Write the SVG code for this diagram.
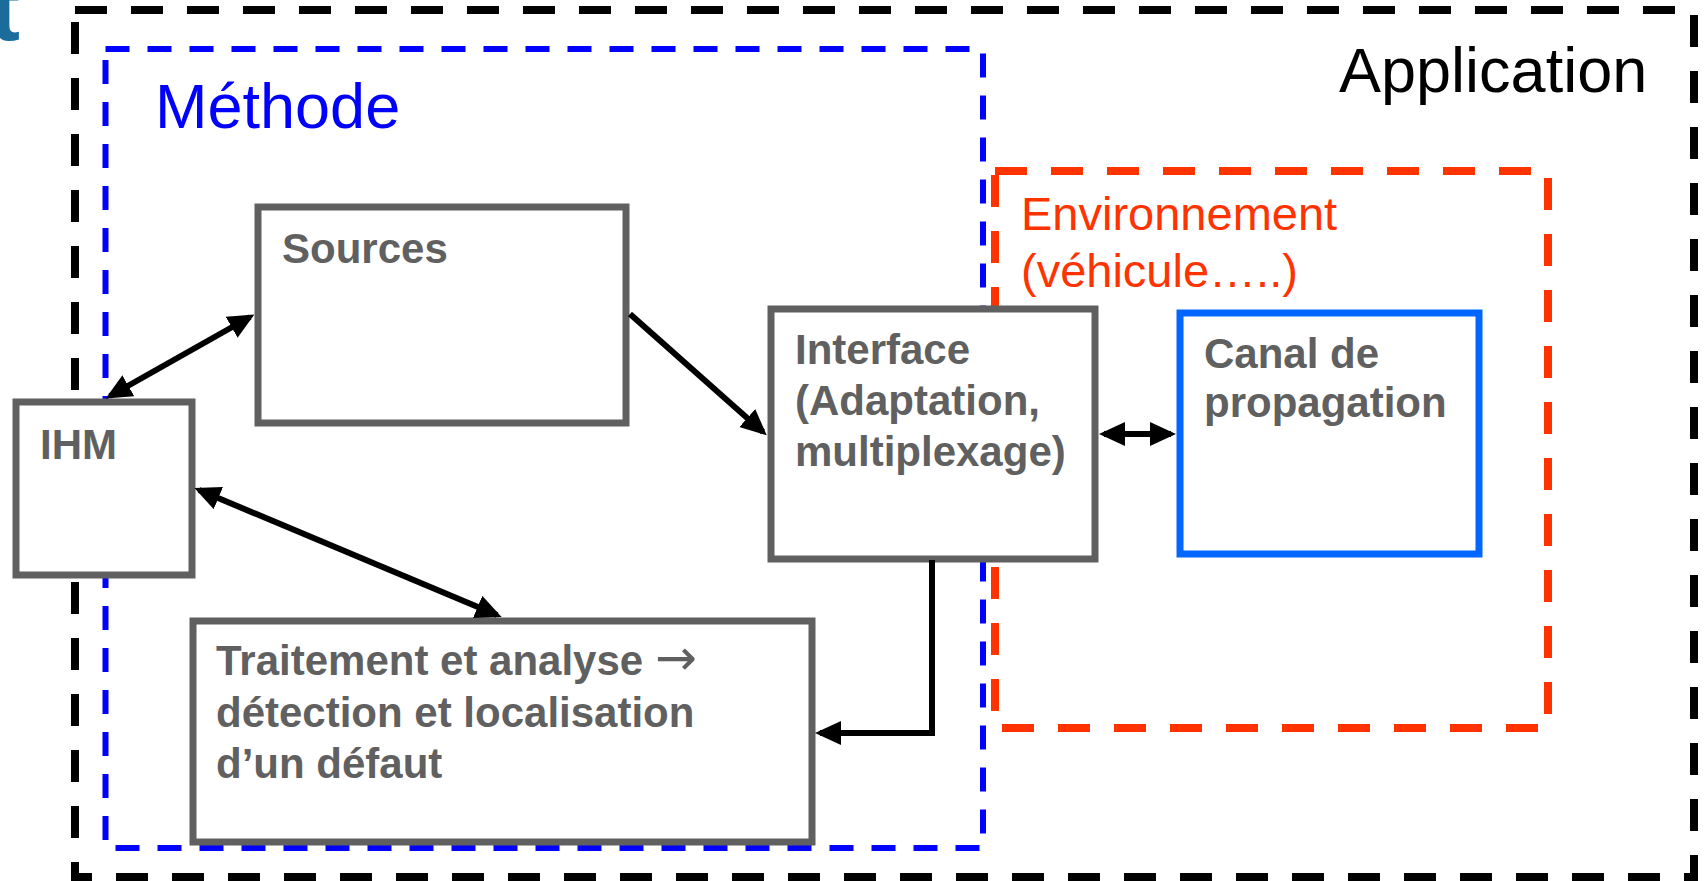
<svg xmlns="http://www.w3.org/2000/svg" width="1704" height="881" viewBox="0 0 1704 881">
<style>
.box{fill:#fff;stroke:#606060;stroke-width:7}
.lbl{font-family:"Liberation Sans",Arial,sans-serif;font-weight:bold;font-size:42px;fill:#606060}
.big{font-family:"Liberation Sans",Arial,sans-serif;font-size:63px}
.con{fill:none;stroke:#000;stroke-width:6}
</style>
<defs>
<marker id="ah" viewBox="0 0 26 24" refX="21" refY="12" markerWidth="26" markerHeight="24" markerUnits="userSpaceOnUse" orient="auto-start-reverse">
<path d="M0,0 L26,12 L0,24 z" fill="#000"/>
</marker>
</defs>
<rect width="1704" height="881" fill="#fff"/>
<text x="-10" y="40" font-family="Liberation Sans,Arial,sans-serif" font-weight="bold" font-size="90" fill="#1B6B9B">t</text>
<g id="application">
<rect x="75" y="10" width="1619" height="867" fill="none" stroke="#000" stroke-width="8" stroke-dasharray="32 24"/>
<text class="big" x="1339" y="92" fill="#000">Application</text>
</g>
<g id="methode">
<rect x="105.5" y="49" width="877.5" height="799" fill="none" stroke="#0000FF" stroke-width="6" stroke-dasharray="24 18"/>
<text class="big" x="155" y="128" fill="#0000FF">Méthode</text>
</g>
<g id="environnement">
<rect x="995" y="171" width="553" height="557" fill="none" stroke="#FF3300" stroke-width="8" stroke-dasharray="32 24"/>
<text font-family="Liberation Sans,Arial,sans-serif" font-size="47" fill="#FF3300"><tspan x="1021" y="230">Environnement</tspan><tspan x="1021" y="287">(véhicule…..)</tspan></text>
</g>
<g id="sources">
<rect class="box" x="258" y="207" width="368" height="216"/>
<text class="lbl" x="282" y="263">Sources</text>
</g>
<g id="ihm">
<rect class="box" x="16" y="402" width="176" height="173"/>
<text class="lbl" x="40" y="459">IHM</text>
</g>
<g id="interface">
<rect class="box" x="771" y="309" width="324" height="250"/>
<text class="lbl"><tspan x="795" y="364">Interface</tspan><tspan x="795" y="415">(Adaptation,</tspan><tspan x="795" y="466">multiplexage)</tspan></text>
</g>
<g id="canal">
<rect x="1180" y="313" width="299" height="241" fill="#fff" stroke="#0066FF" stroke-width="7"/>
<text class="lbl"><tspan x="1204" y="368">Canal de</tspan><tspan x="1204" y="417">propagation</tspan></text>
</g>
<g id="traitement">
<rect class="box" x="193" y="621" width="619" height="221"/>
<text class="lbl"><tspan x="216" y="675">Traitement et analyse </tspan><tspan font-family="DejaVu Sans,sans-serif" font-weight="normal" font-size="50">→</tspan><tspan x="216" y="727">détection et localisation</tspan><tspan x="216" y="778">d’un défaut</tspan></text>
</g>
<g id="connectors">
<line class="con" x1="110" y1="396" x2="250" y2="317" marker-start="url(#ah)" marker-end="url(#ah)"/>
<line class="con" x1="199" y1="490" x2="497" y2="615" marker-start="url(#ah)" marker-end="url(#ah)"/>
<line class="con" x1="630" y1="314" x2="763" y2="432" marker-end="url(#ah)"/>
<line class="con" x1="1104" y1="434" x2="1171" y2="434" marker-start="url(#ah)" marker-end="url(#ah)"/>
<polyline class="con" points="932,560 932,733 820,733" marker-end="url(#ah)"/>
</g>
</svg>
